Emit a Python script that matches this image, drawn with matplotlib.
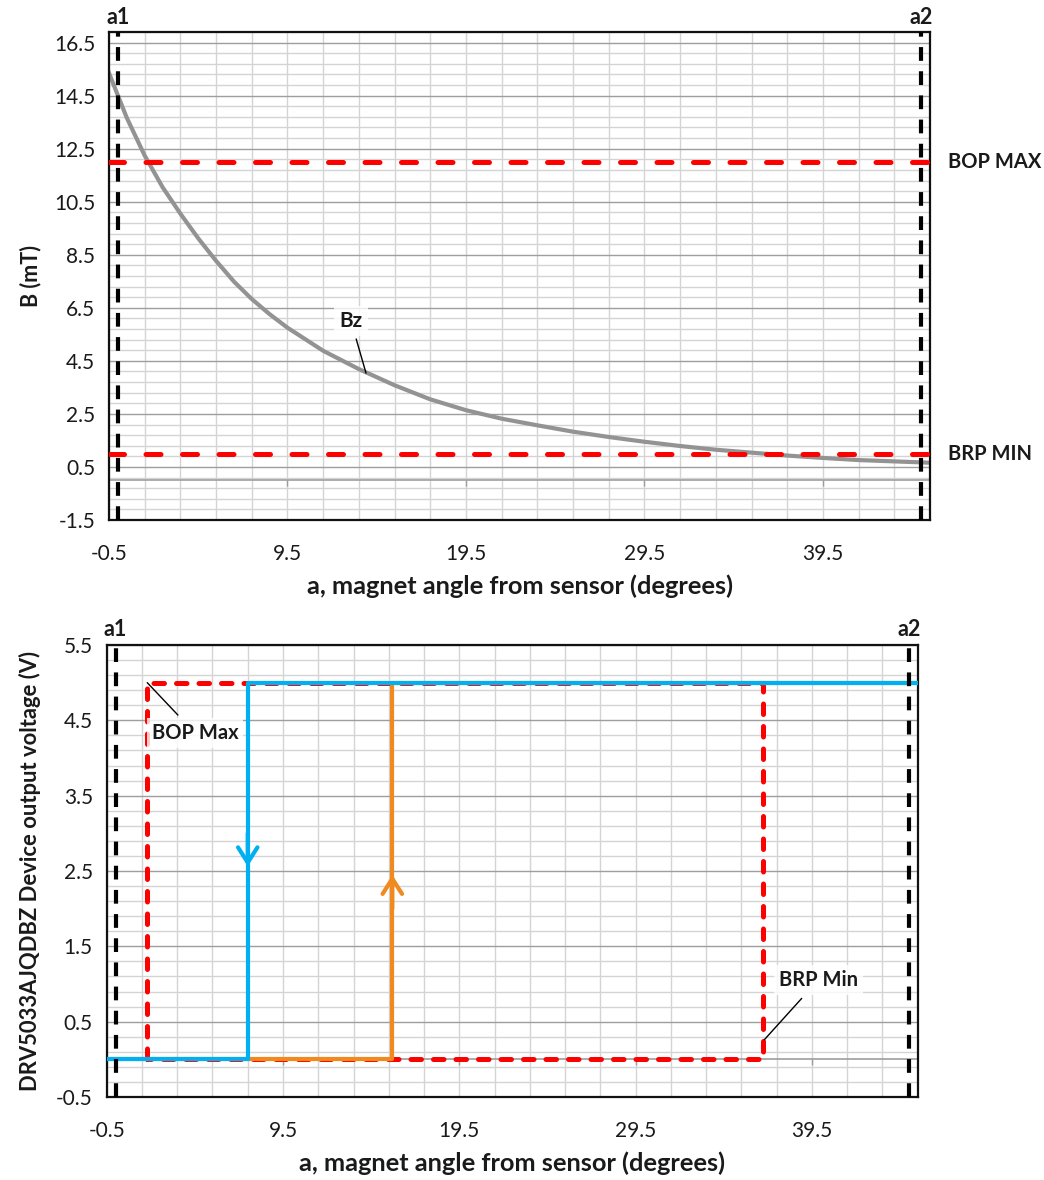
import matplotlib
matplotlib.use("Agg")
import matplotlib.pyplot as plt
import numpy as np

plt.rcParams['font.family'] = ['Lato', 'DejaVu Sans']

# ---------------- data ----------------
angle = [-0.5, 0.5, 1.5, 2.5, 3.5, 4.5, 5.5, 6.5, 7.5, 8.5, 9.5, 11.5, 13.5, 15.5,
         17.5, 19.5, 21.5, 23.5, 25.5, 27.5, 29.5, 31.5, 33.5, 35.5, 37.5, 39.5,
         41.5, 43.5, 45.5]
bz = [15.35, 13.66, 12.24, 11.05, 10.05, 9.12, 8.27, 7.49, 6.83, 6.26, 5.75, 4.88, 4.19, 3.58,
      3.05, 2.64, 2.32, 2.07, 1.83, 1.63, 1.45, 1.29, 1.15, 1.04, 0.93, 0.84,
      0.76, 0.71, 0.66]
bop_max = 12.0
brp_min = 1.0
a1 = 0.0
a2 = 45.0

# bottom chart paths
red_x = [1.8, 1.8, 36.7, 36.7, 1.8]
red_y = [0, 5, 5, 0, 0]
blue_x = [-0.5, 7.5, 7.5, 45.5]
blue_y = [0, 0, 5, 5]
orange_x = [-0.5, 15.7, 15.7, 45.5]
orange_y = [0, 0, 5, 5]

x_ticks = [-0.5, 9.5, 19.5, 29.5, 39.5]
x_tick_labels = ["-0.5", "9.5", "19.5", "29.5", "39.5"]
top_y_ticks = [-1.5, 0.5, 2.5, 4.5, 6.5, 8.5, 10.5, 12.5, 14.5, 16.5]
bot_y_ticks = [-0.5, 0.5, 1.5, 2.5, 3.5, 4.5, 5.5]

xlabel = "a, magnet angle from sensor (degrees)"

# ---------------- style ----------------
RED = '#FF0000'
BLUE = '#00B0F0'
ORANGE = '#F08A1E'
GRAY = '#939393'
MINOR = '#D4D4D4'
MAJOR = '#9E9E9E'
TXT = '#1a1a1a'

fig = plt.figure(figsize=(10.44, 11.8), dpi=100)

ax1 = fig.add_axes([109/1044, 1-520/1180, (930-109)/1044, (520-32)/1180])
ax2 = fig.add_axes([106.7/1044, 1-1097/1180, (917.7-106.7)/1044, (1097-645)/1180])


def style_axes(ax, ymin, ymax, yticks, yminor_step):
    ax.set_xlim(-0.5, 45.5)
    ax.set_ylim(ymin, ymax)
    ax.set_xticks(x_ticks)
    ax.set_xticklabels(x_tick_labels)
    ax.set_yticks(yticks)
    ax.set_yticklabels([f"{t:.1f}" for t in yticks])
    ax.set_xticks(np.arange(-0.5, 45.6, 2.0), minor=True)
    ax.set_yticks(np.arange(ymin, ymax + 1e-6, yminor_step), minor=True)
    ax.tick_params(which='both', length=0)
    ax.tick_params(axis='y', pad=10, labelsize=15, colors=TXT)
    ax.tick_params(axis='x', pad=17, labelsize=15, colors=TXT)
    ax.grid(which='minor', axis='both', color=MINOR, lw=1.0, zorder=0)
    ax.grid(which='major', axis='y', color=MAJOR, lw=1.0, zorder=0.5)
    ax.grid(which='major', axis='x', color=MINOR, lw=1.0, zorder=0)
    ax.set_axisbelow(True)
    for s in ax.spines.values():
        s.set_color('#111111')
        s.set_linewidth(1.6)
    # zero axis line with small ticks
    ax.axhline(0, color=MAJOR, lw=1.2, zorder=1)
    tick_len = (ymax - ymin) * 0.012
    ax.vlines(x_ticks[1:], -tick_len, 0, color=MAJOR, lw=1.0, zorder=1)


# ---------------- top chart ----------------
style_axes(ax1, -1.5, 16.9, top_y_ticks, 0.4)
ax1.axhline(bop_max, color=RED, lw=3.6, ls=(0, (3.0, 4.3)), dash_capstyle='round', zorder=3)
ax1.axhline(brp_min, color=RED, lw=3.6, ls=(0, (3.0, 4.3)), dash_capstyle='round', zorder=3)
ax1.plot(angle, bz, color=GRAY, lw=3.0, zorder=2, solid_joinstyle='round')
for a in (a1, a2):
    ax1.axvline(a, color='black', lw=3.0, ls=(0, (3.3, 2.5)), zorder=4)
ax1.text(a1, 17.44, "a1", ha='center', va='center', fontsize=15.5, fontweight='bold', color=TXT, clip_on=False)
ax1.text(a2, 17.44, "a2", ha='center', va='center', fontsize=15.5, fontweight='bold', color=TXT, clip_on=False)
ax1.text(46.5, bop_max, "BOP MAX", ha='left', va='center', fontsize=14.5, fontweight='bold', color=TXT, clip_on=False)
ax1.text(46.5, brp_min, "BRP MIN", ha='left', va='center', fontsize=14.5, fontweight='bold', color=TXT, clip_on=False)
ax1.annotate("Bz", xy=(13.9, 4.04), xytext=(13.06, 6.0), ha='center', va='center',
             fontsize=15, fontweight='bold', color=TXT,
             bbox=dict(boxstyle='square,pad=0.25', fc='white', ec='none', alpha=0.8),
             arrowprops=dict(arrowstyle='-', color='black', lw=1.0, shrinkA=2, shrinkB=0), zorder=5)
ax1.set_xlabel(xlabel, fontsize=18.3, fontweight='bold', color=TXT)
ax1.xaxis.set_label_coords(0.5006, -0.135)
ax1.xaxis.label.set_va('center')
ax1.set_ylabel("B (mT)", fontsize=15.5, fontweight='bold', color=TXT)
ax1.yaxis.set_label_coords(-0.096, 0.5)
ax1.yaxis.label.set_va('center')

# ---------------- bottom chart ----------------
style_axes(ax2, -0.5, 5.5, bot_y_ticks, 0.2)
ax2.plot(red_x, red_y, color=RED, lw=3.6, ls=(0, (2.1, 2.4)), dash_capstyle='round', zorder=2)
ax2.plot(orange_x, orange_y, color=ORANGE, lw=3.0, zorder=3)
ax2.plot(blue_x, blue_y, color=BLUE, lw=3.0, zorder=4)
ax2.annotate('', xy=(7.5, 2.56), xytext=(7.5, 3.0),
             arrowprops=dict(arrowstyle='->,head_length=0.55,head_width=0.35', color=BLUE, lw=3.0,
                             mutation_scale=20, shrinkA=0, shrinkB=0), zorder=5)
ax2.annotate('', xy=(15.7, 2.45), xytext=(15.7, 2.0),
             arrowprops=dict(arrowstyle='->,head_length=0.55,head_width=0.35', color=ORANGE, lw=3.0,
                             mutation_scale=20, shrinkA=0, shrinkB=0), zorder=5)
for a in (a1, a2):
    ax2.axvline(a, color='black', lw=3.0, ls=(0, (3.3, 2.5)), zorder=6)
ax2.text(a1, 5.7, "a1", ha='center', va='center', fontsize=15.5, fontweight='bold', color=TXT, clip_on=False)
ax2.text(a2, 5.7, "a2", ha='center', va='center', fontsize=15.5, fontweight='bold', color=TXT, clip_on=False)
ax2.annotate("BOP Max", xy=(1.8, 5.0), xytext=(4.51, 4.33), ha='center', va='center',
             fontsize=14.5, fontweight='bold', color=TXT,
             bbox=dict(boxstyle='square,pad=0.25', fc='white', ec='none', alpha=0.8),
             arrowprops=dict(arrowstyle='-', color='black', lw=1.0, shrinkA=3, shrinkB=0), zorder=7)
ax2.annotate("BRP Min", xy=(36.8, 0.26), xytext=(39.85, 1.05), ha='center', va='center',
             fontsize=14.5, fontweight='bold', color=TXT,
             bbox=dict(boxstyle='square,pad=0.25', fc='white', ec='none', alpha=0.8),
             arrowprops=dict(arrowstyle='-', color='black', lw=1.0, shrinkA=3, shrinkB=0), zorder=7)
ax2.set_xlabel(xlabel, fontsize=18.3, fontweight='bold', color=TXT)
ax2.xaxis.set_label_coords(0.4998, -0.146)
ax2.xaxis.label.set_va('center')
ax2.set_ylabel("DRV5033AJQDBZ Device output voltage (V)", fontsize=15.8, fontweight='bold', color=TXT)
ax2.yaxis.set_label_coords(-0.0946, 0.5)
ax2.yaxis.label.set_va('center')

fig.savefig("out.png", dpi=100)
